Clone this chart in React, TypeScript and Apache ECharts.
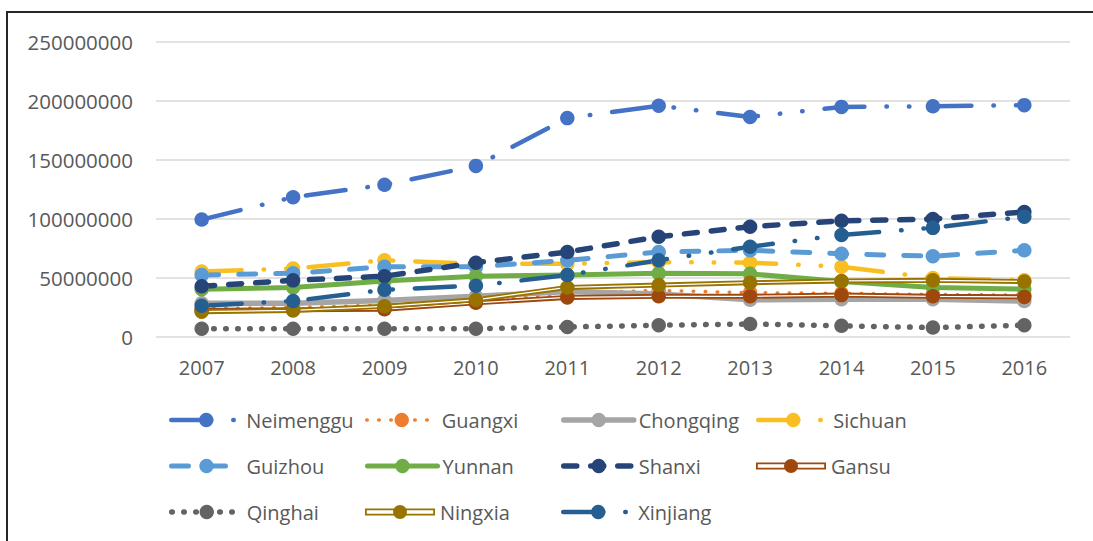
import React, { useEffect, useRef } from "react";
import * as echarts from "echarts";

const years = ["2007", "2008", "2009", "2010", "2011", "2012", "2013", "2014", "2015", "2016"];
const yTicks = { min: 0, max: 250000000, interval: 50000000 };

const neimenggu = [99500000, 118500000, 129000000, 145000000, 185500000, 196000000, 186500000, 195000000, 195500000, 196500000];
const guangxi = [24000000, 25000000, 27000000, 31000000, 37000000, 39500000, 37500000, 37000000, 36000000, 35500000];
const chongqing = [28500000, 28500000, 31000000, 34500000, 38500000, 36500000, 31500000, 32000000, 32000000, 30500000];
const sichuan = [55500000, 58000000, 65000000, 62000000, 62000000, 63500000, 63000000, 59500000, 50000000, 48000000];
const guizhou = [52500000, 54000000, 59500000, 59500000, 65000000, 72000000, 73500000, 70500000, 68500000, 73500000];
const yunnan = [40500000, 42000000, 47500000, 51500000, 52500000, 54000000, 53500000, 47000000, 42000000, 40500000];
const shanxi = [43000000, 48000000, 51500000, 63000000, 72000000, 85000000, 93500000, 98500000, 100000000, 106000000];
const gansu = [22500000, 23000000, 23500000, 29000000, 33500000, 34500000, 34500000, 35500000, 34500000, 34000000];
const qinghai = [7000000, 7000000, 7000000, 7000000, 8500000, 10000000, 11000000, 9500000, 8000000, 10000000];
const ningxia = [21500000, 22500000, 26000000, 31500000, 42000000, 44000000, 46000000, 47500000, 48000000, 47000000];
const xinjiang = [26500000, 30500000, 40000000, 43500000, 52500000, 65000000, 76500000, 86500000, 92500000, 102000000];

const FONT = "'Open Sans', 'DejaVu Sans', sans-serif";
const TXT = "#595959";

const compoundIcon =
  "path://M0,5 L70,5 L70,12 L0,12 Z M1.8,6.8 L1.8,10.2 L68.2,10.2 L68.2,6.8 Z M35,1.5 A7,7 0 1 1 35,15.5 A7,7 0 1 1 35,1.5 Z";

export default function App() {
  const ref = useRef<HTMLDivElement>(null);
  useEffect(() => {
    if (!ref.current) return;
    const chart = echarts.init(ref.current, null, { renderer: "svg" });
    const longDashDotDot = [40, 22, 0.5, 22, 0.5, 22];
    const styles: Record<string, { color: string; width: number; type: any }> = {
      Neimenggu: { color: "#4472C4", width: 4.5, type: longDashDotDot },
      Guangxi: { color: "#ED7D31", width: 3.5, type: [0.5, 11.5] },
      Chongqing: { color: "#A5A5A5", width: 5.5, type: "solid" },
      Sichuan: { color: "#F9BF22", width: 4.5, type: longDashDotDot },
      Guizhou: { color: "#5B9BD5", width: 5, type: [17, 20] },
      Yunnan: { color: "#70AD47", width: 5, type: "solid" },
      Shanxi: { color: "#264478", width: 5.5, type: [13, 14] },
      Gansu: { color: "#9E480E", width: 5, type: "solid" },
      Qinghai: { color: "#636363", width: 5.5, type: [0.5, 11.5] },
      Ningxia: { color: "#997300", width: 5, type: "solid" },
      Xinjiang: { color: "#255E91", width: 4.5, type: longDashDotDot },
    };
    const mk = (name: string, data: number[], extra: any = {}) => {
      const s = styles[name];
      return {
        name,
        type: "line",
        data,
        symbol: "circle",
        symbolSize: 14.5,
        showSymbol: true,
        itemStyle: { color: s.color },
        lineStyle: { color: s.color, width: s.width, type: s.type, cap: "round", join: "round" },
        emphasis: { disabled: true },
        ...extra,
      };
    };
    const plain = (name: string, data: number[], color: string, width: number) => ({
      name,
      type: "line",
      data,
      showSymbol: false,
      lineStyle: { color, width },
      emphasis: { disabled: true },
    });
    const series: any[] = [
      mk("Neimenggu", neimenggu),
      mk("Guangxi", guangxi),
      mk("Chongqing", chongqing),
      mk("Sichuan", sichuan),
      mk("Guizhou", guizhou),
      mk("Yunnan", yunnan),
      mk("Shanxi", shanxi),
      plain("Gansu-line", gansu, "#9E480E", 5),
      plain("Gansu-inner", gansu, "#ffffff", 1.2),
      mk("Gansu", gansu, { lineStyle: { opacity: 0 } }),
      mk("Qinghai", qinghai),
      plain("Ningxia-line", ningxia, "#997300", 5),
      plain("Ningxia-inner", ningxia, "#ffffff", 1.2),
      mk("Ningxia", ningxia, { lineStyle: { opacity: 0 } }),
      mk("Xinjiang", xinjiang),
    ];

    const legendPos: [string, number, number, string?][] = [
      ["Neimenggu", 169, 421],
      ["Guangxi", 365, 421],
      ["Chongqing", 561, 421],
      ["Sichuan", 756, 421],
      ["Guizhou", 169, 467],
      ["Yunnan", 365, 467],
      ["Shanxi", 561, 467],
      ["Gansu", 756, 467, compoundIcon],
      ["Qinghai", 169, 513],
      ["Ningxia", 365, 513, compoundIcon],
      ["Xinjiang", 561, 513],
    ];
    const legend = legendPos.map(([name, left, cy, icon]) => ({
      data: [icon ? { name, icon } : { name }],
      left,
      top: cy - 11,
      padding: 0,
      itemWidth: 70,
      itemHeight: 18,
      selectedMode: false,
      lineStyle: {
        width: styles[name].width,
        type: styles[name].type,
        color: styles[name].color,
        cap: "round",
        opacity: 1,
      },
      textStyle: { fontSize: 20, color: TXT, fontFamily: FONT },
    }));

    chart.setOption({
      animation: false,
      backgroundColor: "#ffffff",
      textStyle: { fontFamily: FONT },
      grid: { left: 156, right: 23, top: 42, bottom: 204, containLabel: false, outerBoundsMode: "none" },
      legend,
      xAxis: {
        type: "category",
        data: years,
        boundaryGap: true,
        axisLine: { show: false },
        axisTick: { show: false },
        axisLabel: { fontSize: 20, color: TXT, margin: 20, fontFamily: FONT },
      },
      yAxis: {
        type: "value",
        min: yTicks.min,
        max: yTicks.max,
        interval: yTicks.interval,
        axisLine: { show: false },
        axisTick: { show: false },
        splitLine: { lineStyle: { color: "#D9D9D9", width: 1.5 } },
        axisLabel: { fontSize: 20.5, color: TXT, margin: 23, fontFamily: FONT, formatter: (v: number) => String(v) },
      },
      graphic: [
        {
          type: "rect",
          shape: { x: 7, y: 12, width: 1200, height: 700 },
          style: { fill: "none", stroke: "#262626", lineWidth: 2 },
          silent: true,
          z: 100,
        },
      ],
      series,
    });
    return () => chart.dispose();
  }, []);
  return <div ref={ref} style={{ position: "absolute", left: 0, top: 0, width: 1093, height: 541 }} />;
}
